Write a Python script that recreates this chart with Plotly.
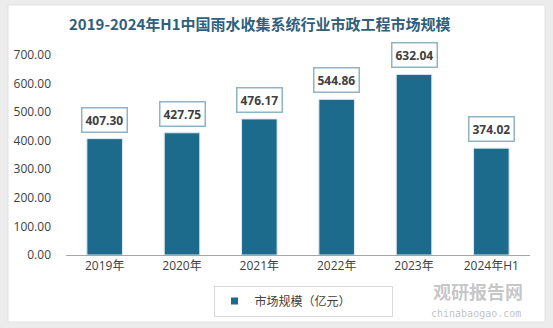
import plotly.graph_objects as go

categories = ["2019年", "2020年", "2021年", "2022年", "2023年", "2024年H1"]
values = [407.30, 427.75, 476.17, 544.86, 632.04, 374.02]
series_name = "市场规模（亿元）"
title_text = "2019-2024年H1中国雨水收集系统行业市政工程市场规模"
y_ticks = [0, 100, 200, 300, 400, 500, 600, 700]
y_tick_labels = [f"{v:.2f}" for v in y_ticks]

W, H = 553, 328
bar_color = "#1c6a8c"

fig = go.Figure()
fig.add_trace(go.Bar(
    x=categories, y=values, name=series_name,
    marker=dict(color=bar_color, line=dict(color="#dfe8ee", width=1)),
    width=0.46, showlegend=False,
))
# legend entry with small square marker
fig.add_trace(go.Scatter(
    x=[None], y=[None], mode="markers", name=series_name,
    marker=dict(symbol="square", size=7, color=bar_color),
    showlegend=True,
))

for c, v in zip(categories, values):
    fig.add_annotation(
        x=c, y=v, xref="x", yref="y",
        text=f"<b>{v:.2f}</b>", showarrow=False,
        yanchor="bottom", yshift=6,
        font=dict(family="Open Sans, Noto Sans", size=12, color="#404040"),
        bgcolor="white", bordercolor="#8fb4c4", borderwidth=1.5, borderpad=3,
    )

# white card
fig.add_shape(type="rect", xref="paper", yref="paper",
              x0=-58/464, x1=(545-66)/464, y0=-(322-255)/200, y1=1+(55-5)/200,
              fillcolor="white", line=dict(color="#e2e2e2", width=1), layer="below")

fig.add_annotation(
    xref="paper", yref="paper", x=(260-66)/464, y=1+(55-24)/200,
    text=f"<b>{title_text}</b>", showarrow=False, xanchor="center", yanchor="middle",
    font=dict(family="Noto Sans CJK SC", size=15, color="#2f607c"),
)

# watermark
fig.add_annotation(
    xref="paper", yref="paper", x=(478-66)/464, y=-(291-255)/200,
    text="<b>观研报告网</b>", showarrow=False, xanchor="center", yanchor="middle",
    font=dict(family="Noto Sans CJK SC", size=18, color="rgba(150,150,150,0.55)"),
)
fig.add_annotation(
    xref="paper", yref="paper", x=(476-66)/464, y=-(313-255)/200,
    text="chinabaogao.com", showarrow=False, xanchor="center", yanchor="middle",
    font=dict(family="DejaVu Sans Mono, Liberation Mono", size=10, color="rgba(150,150,150,0.6)"),
)

fig.update_layout(
    width=W, height=H,
    margin=dict(l=66, r=23, t=55, b=73),
    paper_bgcolor="#ececec",
    plot_bgcolor="#f2f2f2",
    xaxis=dict(
        showgrid=False, showline=True, linecolor="#a6a6a6", linewidth=1,
        ticks="", tickfont=dict(family="Open Sans, Noto Sans CJK SC", size=12, color="#404040"),
        fixedrange=True,
    ),
    yaxis=dict(
        range=[0, 700], tickvals=y_ticks, ticktext=y_tick_labels,
        showgrid=False, zeroline=False, showline=False, ticks="",
        tickfont=dict(family="Open Sans, Noto Sans", size=12, color="#404040"),
        ticklabelstandoff=14, fixedrange=True,
    ),
    legend=dict(
        orientation="h", x=(303-66)/464, xanchor="center", y=-(301-255)/200, yanchor="middle",
        bordercolor="#d9d9d9", borderwidth=1, bgcolor="white",
        font=dict(family="Noto Sans CJK SC", size=12, color="#404040"),
        entrywidth=132, itemwidth=30,
    ),
    showlegend=True,
)

fig.write_html("out.html")
